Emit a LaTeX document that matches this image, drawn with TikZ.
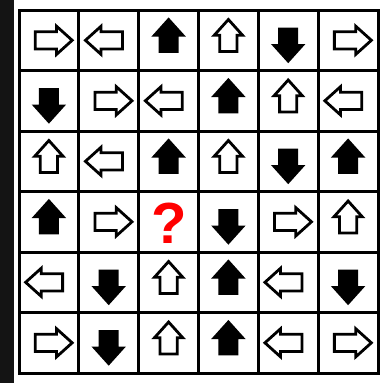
\documentclass[tikz,border=0pt]{standalone}
\usepackage{fontspec}
\setmainfont{Liberation Sans}
\usetikzlibrary{shapes.arrows}

\begin{document}
\begin{tikzpicture}[
	x=1pt, y=-1pt,
	gridline/.style={ line width=3pt, line cap=rect },
	arr/.style={ single arrow, draw, line width=2.8pt, inner sep=7.2pt, single arrow head extend=5.5pt, single arrow tip angle=84, single arrow head indent=0pt },
	aright/.style={ arr, fill=white, minimum height=37pt, shape border rotate=0 },
	aleft/.style={ arr, fill=white, minimum height=37pt, shape border rotate=180 },
	aup/.style={ arr, fill=white, minimum height=32pt, shape border rotate=90 },
	aupf/.style={ arr, fill=black, minimum height=32pt, shape border rotate=90 },
	adownf/.style={ arr, fill=black, minimum height=32pt, shape border rotate=270 }
]

\useasboundingbox (0,0) rectangle (387,383);
\fill[black!92] (0,0) rectangle (13.5,383);

% grid
\draw[gridline] (19,10) rectangle (378,373);
\foreach \x in {78.8,138.7,198.5,258.3,318.2} \draw[gridline] (\x,10) -- (\x,373);
\foreach \y in {70.5,131,191.5,252,312.5} \draw[gridline] (19,\y) -- (378,\y);

% row 1
\node at (48.9,40.3) (a11) [aright] {};
\node at (108.7,40.3) (a12) [aleft] {};
\node at (168.6,40.3) (a13) [aupf] {};
\node at (228.4,40.3) (a14) [aup] {};
\node at (288.2,40.3) (a15) [adownf] {};
\node at (348.1,40.3) (a16) [aright] {};

% row 2
\node at (48.9,100.8) (a21) [adownf] {};
\node at (108.7,100.8) (a22) [aright] {};
\node at (168.6,100.8) (a23) [aleft] {};
\node at (228.4,100.8) (a24) [aupf] {};
\node at (288.2,100.8) (a25) [aup] {};
\node at (348.1,100.8) (a26) [aleft] {};

% row 3
\node at (48.9,161.3) (a31) [aup] {};
\node at (108.7,161.3) (a32) [aleft] {};
\node at (168.6,161.3) (a33) [aupf] {};
\node at (228.4,161.3) (a34) [aup] {};
\node at (288.2,161.3) (a35) [adownf] {};
\node at (348.1,161.3) (a36) [aupf] {};

% row 4
\node at (48.9,221.8) (a41) [aupf] {};
\node at (108.7,221.8) (a42) [aright] {};
\node at (169.5,223) (a43) [text=red, font=\bfseries\fontsize{58}{58}\selectfont] {?};
\node at (228.4,221.8) (a44) [adownf] {};
\node at (288.2,221.8) (a45) [aright] {};
\node at (348.1,221.8) (a46) [aup] {};

% row 5
\node at (48.9,282.3) (a51) [aleft] {};
\node at (108.7,282.3) (a52) [adownf] {};
\node at (168.6,282.3) (a53) [aup] {};
\node at (228.4,282.3) (a54) [aupf] {};
\node at (288.2,282.3) (a55) [aleft] {};
\node at (348.1,282.3) (a56) [adownf] {};

% row 6
\node at (48.9,342.8) (a61) [aright] {};
\node at (108.7,342.8) (a62) [adownf] {};
\node at (168.6,342.8) (a63) [aup] {};
\node at (228.4,342.8) (a64) [aupf] {};
\node at (288.2,342.8) (a65) [aleft] {};
\node at (348.1,342.8) (a66) [aright] {};

\end{tikzpicture}
\end{document}
